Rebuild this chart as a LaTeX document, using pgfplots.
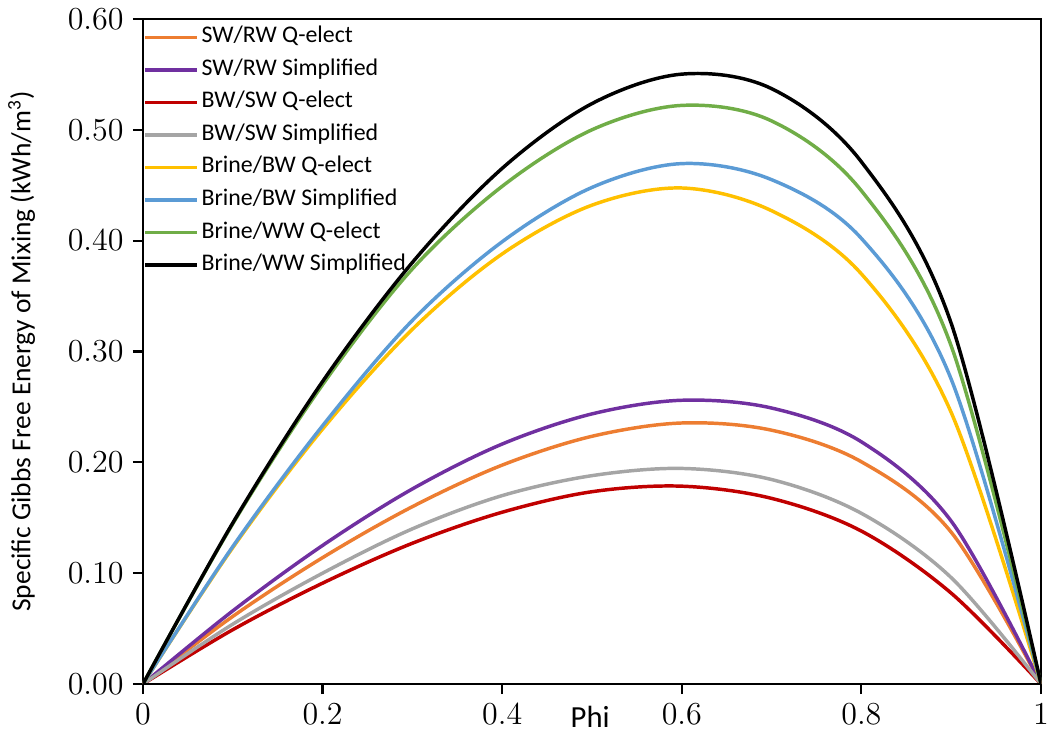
\documentclass[border=0pt]{standalone}
\usepackage{pgfplots}
\usepackage{pgfplotstable}
\pgfplotsset{compat=1.18}
\usepackage{fontspec}
\setmainfont{Carlito}

\definecolor{cOrange}{HTML}{ED7D31}
\definecolor{cPurple}{HTML}{7030A0}
\definecolor{cRed}{HTML}{C00000}
\definecolor{cGray}{HTML}{A5A5A5}
\definecolor{cGold}{HTML}{FFC000}
\definecolor{cBlue}{HTML}{5B9BD5}
\definecolor{cGreen}{HTML}{70AD47}

% phi, then SW/RW (Q-elect, simplified), BW/SW, Brine/BW, Brine/WW
\pgfplotstableread{
phi  swq    sws    bwq    bws    bbq    bbs    bwwq   bwws
0.0  0      0      0      0      0      0      0      0
0.1  0.061  0.066  0.049  0.054  0.123  0.124  0.1445 0.1453
0.2  0.114  0.125  0.091  0.100  0.230  0.233  0.270  0.2729
0.3  0.160  0.176  0.127  0.140  0.320  0.328  0.3745 0.3803
0.4  0.1975 0.2165 0.155  0.170  0.388  0.399  0.449  0.4652
0.5  0.2235 0.2437 0.1735 0.188  0.432  0.448  0.500  0.5236
0.6  0.2355 0.2560 0.1785 0.1945 0.4475 0.4695 0.522  0.5502
0.7  0.2290 0.2490 0.1675 0.1845 0.427  0.455  0.508  0.5371
0.8  0.2005 0.2185 0.138  0.154  0.370  0.402  0.445  0.4711
0.9  0.137  0.147  0.082  0.096  0.245  0.275  0.305  0.3254
1.0  0      0      0      0      0      0      0      0
}\mixdata

\begin{document}
\begin{tikzpicture}
\begin{axis}[
    scale only axis,
    width=336.75pt, height=249.4pt,
    xmin=0, xmax=1, ymin=0, ymax=0.6,
    xtick={0,0.2,...,1.0},
    ytick={0,0.1,...,0.6},
    tick align=outside,
    xtick pos=bottom, ytick pos=left,
    major tick length=3.75pt,
    tick style={black, line width=0.8pt},
    axis line style={line width=0.6pt},
    yticklabel style={/pgf/number format/.cd, fixed, fixed zerofill, precision=2},
    ticklabel style={font=\fontsize{11.5}{12}\selectfont},
    every axis y label/.style={at={(axis description cs:-0.135,0.5)}, rotate=90, anchor=center,
        font=\fontsize{10.3}{11}\selectfont},
    every axis x label/.style={at={(axis description cs:0.498,-0.0647)}, anchor=base,
        font=\fontsize{11.5}{12}\selectfont},
    xlabel={Phi},
    ylabel={Specific Gibbs Free Energy of Mixing (kWh/m\textsuperscript{3})},
    legend cell align=left,
    legend style={at={(axis description cs:0,1)}, anchor=north west, draw=none, fill=none,
        inner xsep=0pt, inner ysep=1.75pt, row sep=2.2pt,
        font=\fontsize{8.95}{10}\selectfont,
        nodes={text height=6pt, text depth=2pt, inner sep=1pt}},
    legend image code/.code={\draw[#1, line width=1.3pt] (0pt,0pt) -- (19.5pt,0pt);},
    every axis plot/.append style={line width=1.3pt, smooth, tension=0.55},
]
\addplot[cOrange] table[x=phi, y=swq] {\mixdata};
\addlegendentry{SW/RW Q-elect}
\addplot[cPurple] table[x=phi, y=sws] {\mixdata};
\addlegendentry{SW/RW Simplified}
\addplot[cRed] table[x=phi, y=bwq] {\mixdata};
\addlegendentry{BW/SW Q-elect}
\addplot[cGray] table[x=phi, y=bws] {\mixdata};
\addlegendentry{BW/SW Simplified}
\addplot[cGold] table[x=phi, y=bbq] {\mixdata};
\addlegendentry{Brine/BW Q-elect}
\addplot[cBlue] table[x=phi, y=bbs] {\mixdata};
\addlegendentry{Brine/BW Simplified}
\addplot[cGreen] table[x=phi, y=bwwq] {\mixdata};
\addlegendentry{Brine/WW Q-elect}
\addplot[black] table[x=phi, y=bwws] {\mixdata};
\addlegendentry{Brine/WW Simplified}
% heavier left and bottom axis lines
\draw[line width=1.1pt] (rel axis cs:0,1) -- (rel axis cs:0,0) -- (rel axis cs:1,0);
\coordinate (bl) at (rel axis cs:0,0);
\coordinate (tr) at (rel axis cs:1,1);
\end{axis}
\pgfresetboundingbox
\path ([xshift=-53.6pt,yshift=-21.75pt]bl) rectangle ([xshift=3pt,yshift=7.1pt]tr);
\end{tikzpicture}
\end{document}
